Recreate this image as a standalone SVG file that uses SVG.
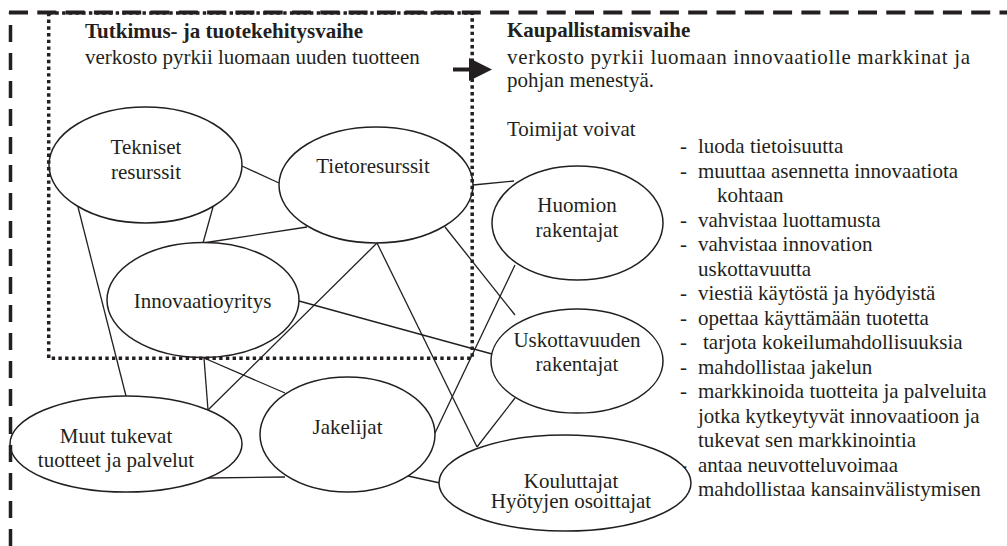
<svg xmlns="http://www.w3.org/2000/svg" width="1007" height="546" viewBox="0 0 1007 546" font-family="'Liberation Serif', 'Times New Roman', serif">
<style>
text{font-family:"Liberation Serif","Times New Roman",serif;font-size:21px;fill:#231f20}
.b{font-weight:bold}
.c{text-anchor:middle}
ellipse{fill:#fff;stroke:#231f20;stroke-width:1.5}
#connectors line{stroke:#231f20;stroke-width:1.3}
.dash{fill:none;stroke:#231f20;stroke-width:4}
.dot{fill:none;stroke:#231f20;stroke-width:3.5;stroke-dasharray:3.4 3.3}
</style>
<rect width="1007" height="546" fill="#fff"/>
<g id="connectors">
<line x1="242" y1="166" x2="279" y2="183"/>
<line x1="473" y1="185" x2="514" y2="181"/>
<line x1="78" y1="207" x2="126" y2="396"/>
<line x1="213" y1="207" x2="203" y2="243"/>
<line x1="203" y1="243" x2="307" y2="227"/>
<line x1="377" y1="243" x2="208" y2="410"/>
<line x1="377" y1="243" x2="477" y2="447"/>
<line x1="445" y1="227" x2="515" y2="315"/>
<line x1="299" y1="301" x2="492" y2="354"/>
<line x1="515" y1="265" x2="435" y2="433"/>
<line x1="515" y1="398" x2="477" y2="447"/>
<line x1="204" y1="358" x2="208" y2="410"/>
<line x1="204" y1="358" x2="285" y2="393"/>
<line x1="208" y1="478" x2="285" y2="477"/>
<line x1="408" y1="476" x2="440" y2="483"/>
</g>
<g id="list">
<text x="507" y="136">Toimijat voivat</text>
<text><tspan x="680" y="153">-</tspan><tspan x="698" y="153">luoda tietoisuutta</tspan></text>
<text><tspan x="680" y="177.5">-</tspan><tspan x="698" y="177.5">muuttaa asennetta innovaatiota</tspan></text>
<text x="717" y="202">kohtaan</text>
<text><tspan x="680" y="226.5">-</tspan><tspan x="698" y="226.5">vahvistaa luottamusta</tspan></text>
<text><tspan x="680" y="251">-</tspan><tspan x="698" y="251">vahvistaa innovation</tspan></text>
<text x="698" y="275.5">uskottavuutta</text>
<text><tspan x="680" y="300">-</tspan><tspan x="698" y="300">viestiä käytöstä ja hyödyistä</tspan></text>
<text><tspan x="680" y="324.5">-</tspan><tspan x="698" y="324.5">opettaa käyttämään tuotetta</tspan></text>
<text><tspan x="680" y="349">-</tspan><tspan x="703" y="349">tarjota kokeilumahdollisuuksia</tspan></text>
<text><tspan x="680" y="373.5">-</tspan><tspan x="698" y="373.5">mahdollistaa jakelun</tspan></text>
<text><tspan x="680" y="398">-</tspan><tspan x="698" y="398">markkinoida tuotteita ja palveluita</tspan></text>
<text x="698" y="422.5">jotka kytkeytyvät innovaatioon ja</text>
<text x="698" y="447">tukevat sen markkinointia</text>
<text><tspan x="680" y="471.5">-</tspan><tspan x="698" y="471.5">antaa neuvotteluvoimaa</tspan></text>
<text><tspan x="680" y="496">-</tspan><tspan x="698" y="496">mahdollistaa kansainvälistymisen</tspan></text>
</g>
<g id="n-tekniset"><ellipse cx="145.5" cy="165" rx="96.5" ry="58"/><text class="c" x="146" y="154">Tekniset</text><text class="c" x="146" y="179">resurssit</text></g>
<g id="n-tieto"><ellipse cx="376" cy="185" rx="97" ry="58"/><text class="c" x="373" y="173">Tietoresurssit</text></g>
<g id="n-innovaatio"><ellipse cx="203" cy="300" rx="96" ry="57.5"/><text class="c" x="202.5" y="308">Innovaatioyritys</text></g>
<g id="n-huomion"><ellipse cx="577.5" cy="223" rx="85.5" ry="57"/><text class="c" x="577" y="212">Huomion</text><text class="c" x="577" y="237">rakentajat</text></g>
<g id="n-uskottavuuden"><ellipse cx="577" cy="361" rx="86" ry="52"/><text class="c" x="577" y="347">Uskottavuuden</text><text class="c" x="577" y="371">rakentajat</text></g>
<g id="n-muut"><ellipse cx="126" cy="444" rx="116" ry="48"/><text class="c" x="116" y="443">Muut tukevat</text><text class="c" x="116" y="467">tuotteet ja palvelut</text></g>
<g id="n-jakelijat"><ellipse cx="347.5" cy="434.5" rx="87.5" ry="57.5"/><text class="c" x="347.5" y="434">Jakelijat</text></g>
<g id="n-kouluttajat"><ellipse cx="565" cy="483" rx="126" ry="48"/><text class="c" x="571" y="488">Kouluttajat</text><text class="c" x="571" y="508">Hyötyjen osoittajat</text></g>
<g id="frame">
<line class="dash" x1="10.5" y1="546" x2="10.5" y2="12.5" style="stroke-dasharray:17 11;stroke-width:3.5"/>
<line class="dash" x1="9" y1="12.5" x2="1007" y2="12.5" style="stroke-dasharray:19 9.3"/>
<rect class="dot" x="48.7" y="13" width="423.5" height="345.3"/>
</g>
<g id="arrow">
<line x1="453" y1="69.5" x2="471" y2="69.5" stroke="#231f20" stroke-width="4"/>
<polygon points="469,58 492,69.5 469,81" fill="#231f20"/>
</g>
<g id="headings">
<text class="b" x="85" y="38">Tutkimus- ja tuotekehitysvaihe</text>
<text x="85" y="64">verkosto pyrkii luomaan uuden tuotteen</text>
<text class="b" x="507" y="37">Kaupallistamisvaihe</text>
<text x="507" y="64" textLength="463" lengthAdjust="spacing">verkosto pyrkii luomaan innovaatiolle markkinat ja</text>
<text x="507" y="87">pohjan menestyä.</text>
</g>
</svg>
